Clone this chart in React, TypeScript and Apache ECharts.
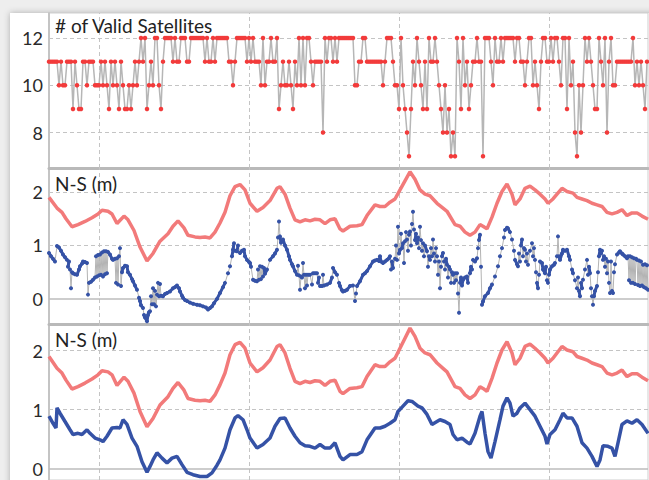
import React, { useEffect, useRef } from "react";
import * as echarts from "echarts";

// ---- data ----
// Satellite count sampled every 2 s starting at t = 49 s.
// code: '0' -> 10, '1' -> 11, '2' -> 12, otherwise the digit itself.
const SAT_START = 49;
const SAT_STEP = 2;
const SAT_CODES =
  "11111" + "0100" + "111" + "910991" + "10111000101" + "091010910" + "9909" + "0101" + "212" + "9010" +
  "22" + "091" + "2222" + "1211" + "222" + "112" + "222222" + "121121" + "222222" + "11012" +
  "2222" + "121211" + "1020112112" + "90100109" + "10" + "20202210" + "111" + "18" + "212212122222222" +
  "0011221111111101" + "222" + "1009" + "20" + "9879" + "10210" + "919" + "21121" + "098089" + "787" +
  "2192019" + "011211" + "7" + "222102" + "1121" + "22222" + "1221" + "101220109" + "122112" +
  "122102292" + "0187080" + "21210992102812" + "001" + "111111120101091";

// [time (s), N-S (m)]
const NS_REFERENCE: [number, number][] = [
  [49,1.90],[57,1.70],[62,1.62],[66,1.50],[72,1.35],[78,1.39],[85,1.45],[92,1.52],[98,1.59],[102,1.66],
  [108,1.64],[112,1.59],[117,1.41],[124,1.55],[128,1.48],[134,1.28],[140,0.97],[147,0.71],[153,0.85],[160,1.08],
  [168,1.22],[173,1.36],[178,1.46],[184,1.33],[188,1.19],[195,1.16],[200,1.15],[205,1.16],[210,1.14],[215,1.25],
  [220,1.42],[225,1.62],[230,1.93],[235,2.10],[240,2.14],[245,2.04],[250,1.79],[257,1.64],[263,1.71],[270,1.84],
  [277,2.07],[280,2.10],[285,1.96],[290,1.70],[295,1.48],[300,1.44],[305,1.48],[310,1.46],[315,1.49],[320,1.48],
  [325,1.41],[330,1.48],[335,1.50],[340,1.31],[343,1.27],[350,1.36],[357,1.37],[362,1.39],[367,1.56],[375,1.76],
  [380,1.73],[385,1.73],[390,1.81],[395,1.87],[400,2.04],[405,2.21],[410,2.38],[415,2.24],[420,2.04],[425,1.96],
  [430,1.93],[437,1.79],[443,1.70],[447,1.64],[455,1.39],[460,1.36],[465,1.25],[470,1.19],[475,1.25],[480,1.39],
  [483,1.36],[487,1.31],[492,1.53],[497,1.79],[502,2.01],[507,2.15],[512,1.96],[515,1.76],[520,1.87],[525,2.07],
  [530,2.11],[535,2.04],[540,1.96],[545,1.87],[548,1.79],[553,1.87],[557,1.96],[562,2.07],[567,2.01],[573,1.98],
  [577,1.90],[582,1.87],[587,1.84],[592,1.79],[597,1.76],[602,1.73],[607,1.62],[612,1.59],[617,1.62],[622,1.67],
  [627,1.56],[632,1.61],[637,1.61],[642,1.55],[648,1.49]
];

const NS_RAW: [number, number][] = [
  [49,0.86],[51,0.80],[53,0.75],[55,0.70],[57,0.99],[59,0.96],[61,0.90],[63,0.83],[65,0.78],[67,0.73],
  [68,0.60],[69,0.70],[70,0.55],[71,0.20],[72,0.50],[73,0.48],[75,0.46],[77,0.45],[79,0.55],[80,0.61],
  [82,0.66],[83,0.70],[85,0.69],[87,0.67],[88,0.08],[89,0.30],[91,0.32],[93,0.36],[95,0.40],[96,0.80],
  [97,0.42],[98,0.82],[99,0.44],[100,0.83],[101,0.45],[102,0.87],[103,0.42],[104,0.89],[105,0.46],[106,0.89],
  [107,0.48],[108,0.88],[110,0.83],[112,0.75],[113,0.73],[115,0.75],[116,0.30],[117,0.76],[118,0.27],[119,0.80],
  [120,0.95],[121,0.24],[122,0.50],[123,0.58],[125,0.62],[127,0.61],[128,0.50],[130,0.45],[132,0.37],[133,0.33],
  [135,0.25],[137,0.17],[139,0.02],[140,-0.04],[141,-0.12],[143,-0.17],[144,-0.30],[145,-0.35],[147,-0.42],[148,-0.30],
  [149,-0.25],[150,-0.23],[151,0.05],[152,-0.10],[153,0.20],[154,-0.10],[155,0.15],[156,-0.14],[157,0.08],[158,0.30],
  [159,0.05],[160,0.28],[161,0.06],[163,0.05],[165,0.09],[167,0.11],[170,0.14],[173,0.20],[175,0.22],[177,0.25],
  [179,0.20],[180,0.14],[182,0.06],[183,0.02],[185,-0.02],[187,-0.04],[190,-0.07],[193,-0.09],[197,-0.11],[200,-0.12],
  [203,-0.14],[206,-0.16],[208,-0.20],[210,-0.17],[212,-0.14],[214,-0.08],[217,0.00],[220,0.11],[223,0.22],[225,0.30],
  [228,0.48],[230,0.61],[232,0.80],[233,0.92],[234,1.04],[235,0.90],[237,0.89],[238,1.00],[240,0.86],[242,0.90],
  [244,0.92],[245,0.80],[247,0.73],[249,0.69],[250,0.67],[251,0.60],[253,0.36],[255,0.34],[257,0.33],[258,0.55],
  [259,0.36],[260,0.61],[261,0.37],[262,0.60],[263,0.42],[264,0.58],[265,0.47],[267,0.55],[270,0.73],[273,0.80],
  [275,0.85],[277,0.92],[278,1.15],[279,1.45],[280,1.17],[281,1.05],[283,1.11],[285,1.00],[287,0.92],[289,0.80],
  [290,0.73],[292,0.65],[293,0.61],[295,0.52],[297,0.45],[298,0.62],[299,0.44],[300,0.17],[301,0.42],[302,0.40],
  [303,0.67],[304,0.45],[305,0.20],[306,0.45],[307,0.25],[308,0.45],[310,0.45],[312,0.27],[313,0.48],[315,0.48],
  [317,0.48],[318,0.30],[319,0.40],[320,0.24],[322,0.24],[323,0.45],[324,0.25],[327,0.27],[330,0.30],[332,0.40],
  [333,0.58],[335,0.50],[337,0.45],[339,0.30],[340,0.24],[342,0.16],[343,0.14],[345,0.15],[347,0.17],[350,0.24],
  [353,0.25],[355,-0.04],[356,0.10],[357,0.24],[360,0.33],[363,0.45],[365,0.48],[367,0.52],[370,0.61],[373,0.70],
  [375,0.72],[377,0.73],[379,0.71],[380,0.80],[381,0.70],[383,0.67],[385,0.70],[387,0.73],[389,0.76],[390,0.80],
  [391,0.55],[392,0.70],[393,0.58],[395,0.75],[396,1.00],[397,0.73],[398,1.35],[399,0.85],[400,0.92],[401,1.22],
  [402,0.95],[403,1.04],[404,0.67],[405,1.08],[406,1.25],[407,1.11],[408,0.90],[409,1.20],[410,1.26],[411,1.00],
  [412,1.40],[413,1.63],[414,1.30],[415,1.10],[416,1.22],[417,1.04],[418,1.15],[419,0.95],[420,1.35],[421,1.10],
  [422,0.90],[423,1.04],[424,0.80],[425,1.00],[427,0.89],[428,0.60],[429,0.80],[430,0.73],[431,0.95],[432,0.80],
  [433,1.11],[434,0.85],[435,0.70],[436,0.95],[437,0.80],[438,0.45],[439,0.70],[440,0.20],[441,0.60],[442,0.80],
  [443,0.86],[444,0.70],[445,0.55],[446,0.75],[447,0.64],[448,0.40],[449,0.60],[450,0.55],[451,0.30],[452,0.50],
  [453,0.45],[454,0.30],[455,0.48],[456,0.35],[457,0.48],[458,0.10],[459,-0.26],[460,0.30],[461,0.40],[462,0.25],
  [463,0.36],[465,0.40],[467,0.42],[468,0.30],[470,0.48],[471,0.60],[472,0.55],[473,0.73],[475,0.70],[477,0.76],
  [478,0.95],[479,1.10],[480,1.20],[481,0.60],[482,-0.11],[483,-0.05],[485,0.05],[488,0.11],[490,0.20],[492,0.27],
  [495,0.42],[498,0.61],[500,0.80],[502,0.95],[504,1.15],[505,1.29],[507,1.33],[508,1.32],[510,1.25],[512,1.11],
  [514,0.90],[515,0.73],[517,0.65],[518,0.61],[519,0.85],[520,0.70],[521,1.00],[522,1.11],[523,0.80],[524,0.95],
  [525,0.92],[526,0.70],[527,0.85],[528,0.64],[530,0.90],[532,1.04],[533,0.80],[534,0.95],[535,0.73],[536,0.50],
  [537,0.30],[538,0.20],[539,0.45],[540,0.70],[542,0.67],[543,0.55],[545,0.48],[546,0.60],[547,0.35],[548,0.30],
  [549,0.45],[550,0.55],[552,0.61],[554,0.64],[555,0.67],[557,0.80],[558,1.17],[559,0.80],[560,0.73],[562,0.85],
  [563,0.92],[565,0.90],[567,0.92],[569,0.80],[570,0.73],[572,0.55],[573,0.48],[575,0.35],[577,0.20],[578,0.40],
  [579,0.15],[580,0.05],[581,0.30],[582,0.20],[583,0.36],[585,0.55],[587,0.73],[588,0.45],[589,0.60],[590,0.48],
  [591,0.20],[592,0.05],[593,-0.11],[594,0.05],[595,0.15],[597,0.24],[598,0.50],[599,0.80],[600,0.92],[601,0.85],
  [602,0.90],[603,0.73],[604,0.80],[605,0.60],[606,0.75],[607,0.48],[608,0.70],[609,0.30],[610,0.11],[611,0.70],
  [612,0.15],[613,0.11],[614,0.50],[615,0.65],[617,0.83],[619,0.87],[620,0.89],[622,0.85],[623,0.83],[625,0.80],
  [627,0.76],[628,0.80],[629,0.35],[630,0.80],[631,0.30],[632,0.78],[633,0.30],[634,0.76],[635,0.28],[636,0.75],
  [637,0.73],[638,0.26],[639,0.72],[640,0.24],[641,0.70],[642,0.25],[643,0.64],[644,0.22],[645,0.65],[646,0.20],
  [647,0.63],[648,0.17]
];

const NS_FILTERED: [number, number][] = [
  [49,0.89],[53,0.77],[56,0.69],[57,1.03],[60,0.94],[65,0.80],[70,0.66],[73,0.58],[78,0.60],[82,0.58],
  [87,0.66],[90,0.60],[95,0.52],[100,0.49],[103,0.46],[107,0.55],[112,0.69],[117,0.70],[120,0.69],[123,0.83],
  [127,0.75],[132,0.52],[137,0.38],[142,0.12],[147,-0.06],[150,0.04],[153,0.15],[157,0.27],[162,0.18],[167,0.10],
  [172,0.18],[177,0.21],[182,0.07],[187,-0.06],[193,-0.10],[200,-0.13],[207,-0.13],[212,-0.07],[217,0.06],[220,0.15],
  [225,0.35],[230,0.66],[235,0.86],[238,0.90],[243,0.83],[247,0.66],[250,0.52],[257,0.35],[263,0.41],[270,0.52],
  [275,0.72],[280,0.85],[285,0.86],[290,0.69],[295,0.55],[300,0.44],[305,0.39],[310,0.38],[315,0.35],[320,0.41],
  [325,0.35],[330,0.35],[335,0.44],[340,0.21],[343,0.15],[350,0.24],[357,0.24],[362,0.29],[367,0.49],[375,0.69],
  [380,0.69],[385,0.72],[390,0.77],[395,0.83],[398,0.97],[403,1.06],[408,1.15],[412,1.14],[418,1.06],[422,1.03],
  [427,0.92],[432,0.75],[437,0.80],[440,0.83],[445,0.80],[450,0.75],[453,0.58],[457,0.49],[462,0.52],[467,0.45],
  [470,0.42],[475,0.60],[480,0.89],[482,0.97],[485,0.60],[488,0.29],[491,0.18],[495,0.46],[500,0.83],[503,1.06],
  [507,1.20],[510,1.11],[513,0.89],[517,0.94],[520,1.03],[525,1.11],[530,1.00],[535,0.89],[540,0.72],[545,0.55],
  [547,0.42],[550,0.58],[555,0.66],[560,0.83],[563,0.94],[567,0.86],[572,0.86],[577,0.72],[582,0.44],[587,0.35],
  [592,0.21],[597,0.04],[600,0.15],[603,0.39],[608,0.38],[612,0.35],[615,0.21],[618,0.44],[622,0.75],[627,0.81],
  [632,0.77],[637,0.83],[642,0.75],[648,0.60]
];

const TIME_RANGE = [49, 648];
const TIME_GRID = [99, 249, 399, 549];
const SAT_TICKS = [8, 10, 12];
const NS_TICKS = [0, 1, 2];
const PANEL_TITLES = ["# of Valid Satellites", "N-S (m)", "N-S (m)"];
const JUMP_LIMIT = 0.12; // m: steps larger than this are drawn as grey jump lines only

const FONT = "Lato, 'Open Sans', sans-serif";
const BLUE = "#3552a6";
const RED_LINE = "#f27a7a";
const decodeSat = (c: string) => (c === "0" ? 10 : c === "1" ? 11 : c === "2" ? 12 : Number(c));

export default function App() {
  const ref = useRef<HTMLDivElement>(null);
  useEffect(() => {
    if (!ref.current) return;
    const chart = echarts.init(ref.current, null, { renderer: "svg" });
    const satData = SAT_CODES.split("").map((c, i) => [SAT_START + i * SAT_STEP, decodeSat(c)]);

    // continuous (non-jump) runs of the raw series
    const runs: [number, number][][] = [];
    let cur: [number, number][] = [];
    NS_RAW.forEach((p, i) => {
      cur.push(p);
      const n = NS_RAW[i + 1];
      if (!n || Math.abs(n[1] - p[1]) > JUMP_LIMIT) {
        if (cur.length > 1) runs.push(cur);
        cur = [];
      }
    });

    const dash = { type: [4, 3] as any, color: "#c4c4c4", width: 1 };
    const gridML = (yVals: number[], zeroSolid: boolean) => ({
      silent: true,
      symbol: ["none", "none"],
      label: { show: false },
      z: 1,
      animation: false,
      lineStyle: dash,
      emphasis: { disabled: true },
      data: [
        ...TIME_GRID.map((t) => ({ xAxis: t })),
        ...yVals.map((v) =>
          zeroSolid && v === 0
            ? { yAxis: v, lineStyle: { type: "solid", color: "#bcbcbc", width: 1.5 } }
            : { yAxis: v }
        ),
      ],
    });

    const grids = [
      { left: 49, right: 1, top: 13, height: 155 },
      { left: 49, right: 1, top: 168, height: 156 },
      { left: 49, right: 1, top: 324, height: 156 },
    ].map((g) => ({ ...g, show: true, borderColor: "#cfcfcf", borderWidth: 1, backgroundColor: "transparent" }));

    const xAxes = [0, 1, 2].map((i) => ({
      type: "value",
      gridIndex: i,
      min: TIME_RANGE[0],
      max: TIME_RANGE[1],
      axisLine: { show: i < 2, onZero: false, lineStyle: { color: "#b9b9b9", width: 3 } },
      axisTick: { show: false },
      axisLabel: { show: false },
      splitLine: { show: false },
    }));

    const yRanges = [
      [6.5, 13.06],
      [-0.47, 2.45],
      [-0.19, 2.45],
    ];
    const yAxes = [0, 1, 2].map((i) => ({
      type: "value",
      gridIndex: i,
      min: yRanges[i][0],
      max: yRanges[i][1],
      axisLine: { show: true, onZero: false, lineStyle: { color: "#c4c4c4", width: 2 } },
      axisTick: { show: false },
      splitLine: { show: false },
      axisLabel: {
        customValues: i === 0 ? SAT_TICKS : NS_TICKS,
        fontFamily: FONT,
        fontSize: 18,
        color: "#2a2a2a",
        margin: 6,
      },
    }));

    const runSeries = runs.map((r) => ({
      type: "line",
      xAxisIndex: 1,
      yAxisIndex: 1,
      data: r,
      showSymbol: false,
      silent: true,
      lineStyle: { color: BLUE, width: 3 },
      z: 5,
    }));

    const option: any = {
      animation: false,
      backgroundColor: "transparent",
      graphic: [
        { type: "rect", z: -20, shape: { x: 0, y: 0, width: 649, height: 480 }, style: { fill: "#eeeeee" } },
        {
          type: "rect",
          z: -19,
          shape: { x: 10, y: 13, width: 700, height: 520 },
          style: { fill: "#ffffff", shadowBlur: 6, shadowColor: "rgba(0,0,0,0.28)" },
        },
      ],
      title: [
        { top: 16, left: 55 },
        { top: 174, left: 55 },
        { top: 330, left: 55 },
      ].map((p, i) => ({
        ...p,
        text: PANEL_TITLES[i],
        padding: 0,
        textStyle: { fontFamily: FONT, fontSize: 19, fontWeight: "normal", color: "#222" },
      })),
      grid: grids,
      xAxis: xAxes,
      yAxis: yAxes,
      series: [
        {
          type: "line",
          name: "satellites",
          xAxisIndex: 0,
          yAxisIndex: 0,
          data: satData,
          symbol: "circle",
          symbolSize: 4.5,
          showAllSymbol: true,
          itemStyle: { color: "#f23b3b" },
          lineStyle: { color: "#b6b6b6", width: 1.5 },
          z: 3,
          markLine: gridML(SAT_TICKS, false),
        },
        {
          type: "line",
          name: "reference",
          xAxisIndex: 1,
          yAxisIndex: 1,
          data: NS_REFERENCE,
          showSymbol: false,
          lineStyle: { color: RED_LINE, width: 3.5 },
          z: 3,
          markLine: gridML(NS_TICKS, true),
        },
        {
          type: "line",
          name: "raw",
          xAxisIndex: 1,
          yAxisIndex: 1,
          data: NS_RAW,
          symbol: "circle",
          symbolSize: 4,
          showAllSymbol: true,
          itemStyle: { color: BLUE },
          lineStyle: { color: "#b3b3b3", width: 1 },
          z: 4,
        },
        ...runSeries,
        {
          type: "line",
          name: "reference2",
          xAxisIndex: 2,
          yAxisIndex: 2,
          data: NS_REFERENCE,
          showSymbol: false,
          lineStyle: { color: RED_LINE, width: 3.5 },
          z: 3,
          markLine: gridML(NS_TICKS, true),
        },
        {
          type: "line",
          name: "filtered",
          xAxisIndex: 2,
          yAxisIndex: 2,
          data: NS_FILTERED,
          showSymbol: false,
          lineStyle: { color: BLUE, width: 3.5 },
          z: 4,
        },
      ],
    };
    chart.setOption(option);
    return () => chart.dispose();
  }, []);
  return (
    <div
      ref={ref}
      style={{ position: "absolute", left: 0, top: 0, width: 649, height: 480, overflow: "hidden" }}
    />
  );
}
